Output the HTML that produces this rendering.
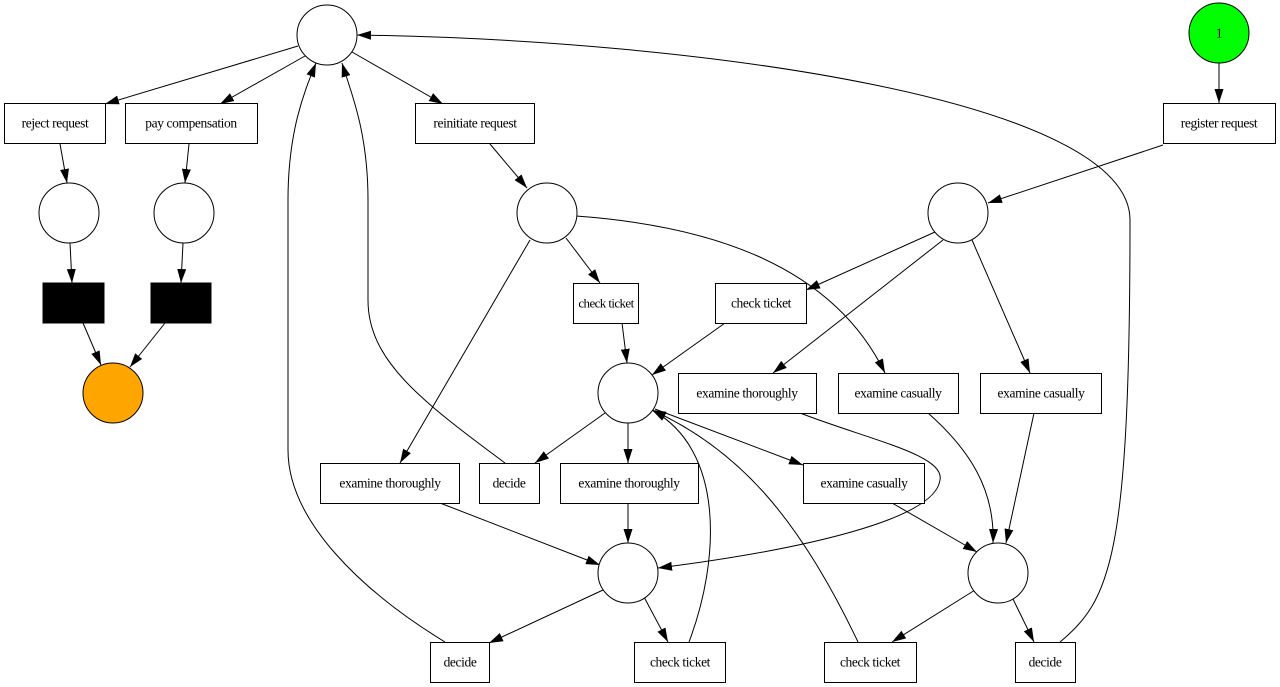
<!DOCTYPE html>
<html><head><meta charset="utf-8"><style>
html,body{margin:0;padding:0;background:#fff}
svg{display:block}
text{font-family:"Liberation Serif",serif;font-size:13.5px;letter-spacing:-0.4px;text-anchor:middle;dominant-baseline:central}
</style></head><body>
<svg width="1280" height="687" viewBox="0 0 1280 687" xmlns="http://www.w3.org/2000/svg">
<defs><marker id="a" viewBox="0 0 14 10" refX="14" refY="5" markerWidth="14" markerHeight="10" markerUnits="userSpaceOnUse" orient="auto"><path d="M0,0.5 L14,5 L0,9.5 z" fill="#000"/></marker></defs>
<g fill="none" stroke="#000" stroke-width="1" marker-end="url(#a)">
<path d="M298,46 L105,104"/>
<path d="M305,56 L220,104"/>
<path d="M352,52 L443,104"/>
<path d="M60,144 L67,183"/>
<path d="M189,144 L185,183"/>
<path d="M70,243 L72,283"/>
<path d="M183,243 L181,283"/>
<path d="M83,323 L101,365"/>
<path d="M165,323 L130,367"/>
<path d="M1219,63 L1219,103"/>
<path d="M1163,145 L988,203"/>
<path d="M935,232 L806,290"/>
<path d="M943,240 L773,373"/>
<path d="M972,240 L1030,373"/>
<path d="M490,144 L527,188"/>
<path d="M566,238 L600,283"/>
<path d="M530,240 L400,463"/>
<path d="M576,216 C700,225 830,260 885,373"/>
<path d="M622,323 L627,363"/>
<path d="M725,323 L652,375"/>
<path d="M605,413 L535,463"/>
<path d="M628,423 L628,463"/>
<path d="M655,409 L803,465"/>
<path d="M800,413 C870,440 945,455 940,480 C935,520 800,550 658,568"/>
<path d="M928,413 C970,450 995,490 993,543"/>
<path d="M1034,413 L1006,543"/>
<path d="M440,503 L600,565"/>
<path d="M628,503 L628,543"/>
<path d="M892,503 L977,552"/>
<path d="M603,590 L489,643"/>
<path d="M644,597 L668,642"/>
<path d="M689,642 C720,560 725,450 652,410"/>
<path d="M858,642 C800,520 740,450 652,410"/>
<path d="M975,590 L892,642"/>
<path d="M1012,597 L1034,642"/>
<path d="M1060,642 C1110,600 1130,560 1130,220 C1130,100 700,40 357,35"/>
<path d="M505,463 C420,400 368,360 368,300 L368,200 C368,130 350,90 342,63"/>
<path d="M445,642 C360,590 288,520 288,450 L288,200 C288,130 305,90 316,63"/>
</g>
<g stroke="#000" stroke-width="1" fill="#fff">
<circle cx="327" cy="35" r="30"/>
<circle cx="1219" cy="33" r="30" fill="#00ff00"/>
<circle cx="69" cy="213" r="30"/>
<circle cx="184" cy="213" r="30"/>
<circle cx="113" cy="393" r="30" fill="#ffa500"/>
<circle cx="547" cy="213" r="30"/>
<circle cx="958" cy="213" r="30"/>
<circle cx="628" cy="393" r="30"/>
<circle cx="628" cy="573" r="30"/>
<circle cx="998" cy="573" r="30"/>
<rect x="43" y="283" width="61" height="40" fill="#000"/>
<rect x="151" y="283" width="60" height="40" fill="#000"/>
<rect x="4.5" y="103.5" width="101" height="40"/>
<rect x="125.5" y="103.5" width="132" height="40"/>
<rect x="415.5" y="103.5" width="119" height="40"/>
<rect x="1163.5" y="103.5" width="112" height="40"/>
<rect x="573.5" y="283.5" width="65" height="40"/>
<rect x="715.5" y="283.5" width="91" height="40"/>
<rect x="678.5" y="373.5" width="138" height="40"/>
<rect x="838.5" y="373.5" width="120" height="40"/>
<rect x="980.5" y="373.5" width="121" height="40"/>
<rect x="320.5" y="463.5" width="139" height="40"/>
<rect x="479.5" y="463.5" width="60" height="40"/>
<rect x="560.5" y="463.5" width="138" height="40"/>
<rect x="803.5" y="463.5" width="121" height="40"/>
<rect x="430.5" y="642.5" width="59" height="40"/>
<rect x="634.5" y="642.5" width="91" height="40"/>
<rect x="824.5" y="642.5" width="92" height="40"/>
<rect x="1015.5" y="642.5" width="60" height="40"/>
</g>
<g fill="#000">
<text x="1219" y="33">1</text>
<text x="55" y="123">reject request</text>
<text x="191" y="123">pay compensation</text>
<text x="475" y="123">reinitiate request</text>
<text x="1219" y="123">register request</text>
<text x="606" y="303" style="font-size:13px;letter-spacing:-0.6px">check ticket</text>
<text x="761" y="303">check ticket</text>
<text x="747" y="393">examine thoroughly</text>
<text x="898" y="393">examine casually</text>
<text x="1041" y="393">examine casually</text>
<text x="390" y="483">examine thoroughly</text>
<text x="509" y="483">decide</text>
<text x="629" y="483">examine thoroughly</text>
<text x="864" y="483">examine casually</text>
<text x="460" y="662">decide</text>
<text x="680" y="662">check ticket</text>
<text x="870" y="662">check ticket</text>
<text x="1045" y="662">decide</text>
</g>
</svg>
</body></html>
